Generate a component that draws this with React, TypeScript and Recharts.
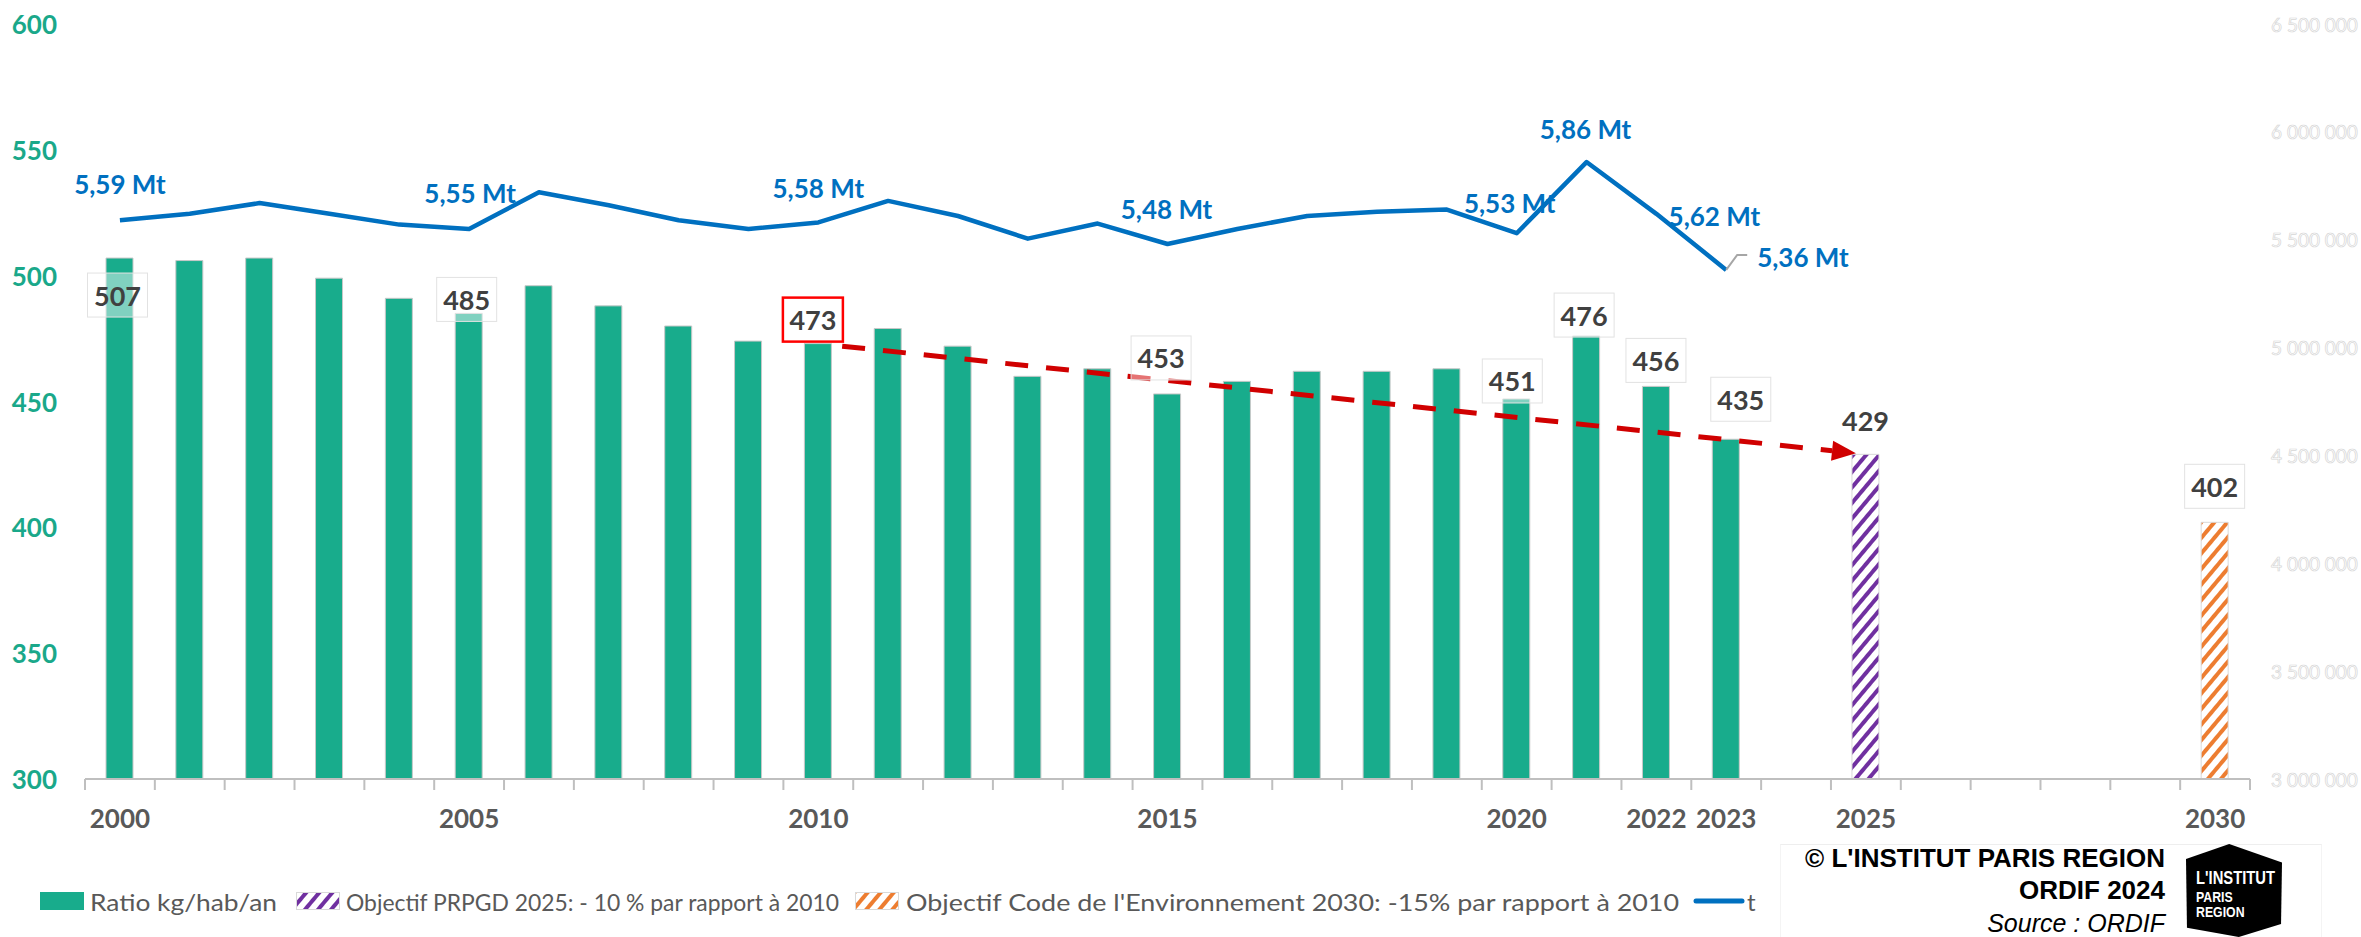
import { ComposedChart, Bar, Line, XAxis, YAxis, ReferenceLine, LabelList } from 'recharts'

// categories: one slot per year, 2024 and 2026-2029 stay empty
const years = [
  '2000', '2001', '2002', '2003', '2004', '2005', '2006', '2007', '2008', '2009',
  '2010', '2011', '2012', '2013', '2014', '2015', '2016', '2017', '2018', '2019',
  '2020', '2021', '2022', '2023', '2024', '2025', '2026', '2027', '2028', '2029', '2030',
]

// kg / habitant / an
const ratioKgHab = [
  507, 506, 507, 499, 491, 485, 496, 488, 480, 474,
  473, 479, 472, 460, 463, 453, 458, 462, 462, 463,
  451, 476, 456, 435, null, null, null, null, null, null, null,
]
const objectifPrpgd2025 = [
  null, null, null, null, null, null, null, null, null, null,
  null, null, null, null, null, null, null, null, null, null,
  null, null, null, null, null, 429, null, null, null, null, null,
]
const objectifCode2030 = [
  null, null, null, null, null, null, null, null, null, null,
  null, null, null, null, null, null, null, null, null, null,
  null, null, null, null, null, null, null, null, null, null, 402,
]
// tonnes
const tonnage = [
  5590000, 5620000, 5670000, 5620000, 5570000, 5550000, 5720000, 5660000, 5590000, 5550000,
  5580000, 5680000, 5610000, 5505000, 5575000, 5480000, 5550000, 5610000, 5630000, 5640000,
  5530000, 5860000, 5620000, 5360000, null, null, null, null, null, null, null,
]

const leftTicks = [300, 350, 400, 450, 500, 550, 600]
const rightTicks = [3000000, 3500000, 4000000, 4500000, 5000000, 5500000, 6000000, 6500000]
const shownYears = ['2000', '2005', '2010', '2015', '2020', '2022', '2023', '2025', '2030']

const W = 2361
const H = 937
const LEFT_W = 85
const RIGHT_W = 111
const TOP = 24
const X_AXIS_H = 60
const BOTTOM = 98
const BAND = (W - LEFT_W - RIGHT_W) / years.length

const GREEN = '#18AC8C'
const BLUE = '#0070C0'
const PURPLE = '#7030A0'
const ORANGE = '#ED7D31'
const FONT = 'Lato, "Open Sans", sans-serif'

// where Excel's labels were dragged to (offset from bar top / line point)
const BAR_LABEL_POS: Record<string, { dx: number; dy: number; box: 'plain' | 'red' | 'none' }> = {
  '2000': { dx: -2, dy: 37, box: 'plain' },
  '2005': { dx: -2, dy: -14, box: 'plain' },
  '2010': { dx: -5, dy: -24, box: 'red' },
  '2015': { dx: -6, dy: -36, box: 'plain' },
  '2020': { dx: -4, dy: -18, box: 'plain' },
  '2021': { dx: -2, dy: -21, box: 'plain' },
  '2022': { dx: 0, dy: -26, box: 'plain' },
  '2023': { dx: 15, dy: -40, box: 'plain' },
  '2025': { dx: 0, dy: -34, box: 'none' },
  '2030': { dx: 0, dy: -36, box: 'plain' },
}
const LINE_LABEL_POS: Record<string, { dx: number; dy: number }> = {
  '2000': { dx: 0, dy: -36 },
  '2005': { dx: 1, dy: -36 },
  '2010': { dx: 0, dy: -34 },
  '2015': { dx: -1, dy: -35 },
  '2020': { dx: -7, dy: -30 },
  '2021': { dx: -1, dy: -33 },
  '2022': { dx: 58, dy: 2 },
}

const fmtSpaces = (v: number) => String(v).replace(/\B(?=(\d{3})+(?!\d))/g, ' ')
const fmtMt = (v: number) => (v / 1000000).toFixed(2).replace('.', ',') + ' Mt'

function XTick(props: any) {
  const { x, y, payload } = props
  const i = props.index ?? payload.index
  const half = BAND / 2
  return (
    <g>
      <line x1={x - half} x2={x - half} y1={y} y2={y + 11} stroke="#BFBFBF" strokeWidth={2} />
      {i === years.length - 1 && (
        <line x1={x + half} x2={x + half} y1={y} y2={y + 11} stroke="#BFBFBF" strokeWidth={2} />
      )}
      {shownYears.includes(payload.value) && (
        <text x={x} y={y + 39} textAnchor="middle" dominantBaseline="central"
          fontFamily={FONT} fontWeight={700} fontSize={26} fill="#595959">
          {payload.value}
        </text>
      )}
    </g>
  )
}

function LeftTick(props: any) {
  const { x, y, payload } = props
  return (
    <text x={x} y={y} textAnchor="end" dominantBaseline="central"
      fontFamily={FONT} fontWeight={700} fontSize={26} fill="#1AA88A">
      {payload.value}
    </text>
  )
}

function RightTick(props: any) {
  const { x, y, payload } = props
  return (
    <text x={x} y={y} textAnchor="start" dominantBaseline="central"
      fontFamily={FONT} fontSize={19} fill="#ffffff" stroke="#d6d6d6" strokeWidth={0.7}>
      {fmtSpaces(payload.value)}
    </text>
  )
}

function BarValueLabel(props: any) {
  const { x, y, width, value, year } = props
  if (value == null || year == null) return null
  const pos = BAR_LABEL_POS[year]
  if (!pos) return null
  const cx = x + width / 2 + pos.dx
  const cy = y + pos.dy
  return (
    <g>
      {pos.box !== 'none' && (
        <rect x={cx - 30} y={cy - 22} width={60} height={44}
          fill="rgba(255,255,255,0.45)"
          stroke={pos.box === 'red' ? '#FF0000' : '#E2E2E2'}
          strokeWidth={pos.box === 'red' ? 2.5 : 1} />
      )}
      <text x={cx} y={cy} textAnchor="middle" dominantBaseline="central"
        fontFamily={FONT} fontWeight={700} fontSize={27} fill="#404040">
        {value}
      </text>
    </g>
  )
}

function LineValueLabel(props: any) {
  const { x, y, value, index } = props
  if (value == null) return null
  const year = years[index]
  const style = { fontFamily: FONT, fontWeight: 700, fontSize: 26, fill: BLUE }
  if (year === '2023') {
    return (
      <g>
        <polyline points={`${x},${y} ${x + 11},${y - 15} ${x + 21},${y - 15}`}
          fill="none" stroke="#A6A6A6" strokeWidth={2} />
        <text x={x + 31} y={y - 13} textAnchor="start" dominantBaseline="central" {...style}>
          {fmtMt(value)}
        </text>
      </g>
    )
  }
  const pos = LINE_LABEL_POS[year]
  if (!pos) return null
  return (
    <text x={x + pos.dx} y={y + pos.dy} textAnchor="middle" dominantBaseline="central" {...style}>
      {fmtMt(value)}
    </text>
  )
}

// red dashed arrow from 2010 bar to 2025 target
function TrendArrow(props: any) {
  const { x1, y1, x2, y2 } = props
  if ([x1, y1, x2, y2].some((v) => typeof v !== 'number' || isNaN(v))) return null
  const len = Math.hypot(x2 - x1, y2 - y1)
  const ux = (x2 - x1) / len
  const uy = (y2 - y1) / len
  const sx = x1 + ux * 24
  const sy = y1 + uy * 24
  const tx = x2 - ux * 10
  const ty = y2 - uy * 10
  const bx = tx - ux * 24
  const by = ty - uy * 24
  const nx = -uy
  const ny = ux
  return (
    <g>
      <line x1={sx} y1={sy} x2={bx} y2={by} stroke="#D00000" strokeWidth={5} strokeDasharray="23 18" />
      <polygon
        points={`${tx},${ty} ${bx + nx * 10},${by + ny * 10} ${bx - nx * 10},${by - ny * 10}`}
        fill="#D00000" />
    </g>
  )
}

function ChartLegend() {
  const txt = { fontFamily: FONT, fontSize: 24, fill: '#595959', dominantBaseline: 'central' as const, lengthAdjust: 'spacingAndGlyphs' }
  return (
    <svg width={1800} height={40} style={{ position: 'absolute', left: 0, top: 881 }}>
      <rect x={40} y={11} width={44} height={18} fill={GREEN} />
      <text x={90} y={20} textLength={187} {...txt}>Ratio kg/hab/an</text>
      <rect x={296.5} y={11.5} width={43} height={17} fill="url(#hatch-purple)" stroke="#D9D9D9" />
      <text x={346} y={20} textLength={493} {...txt}>Objectif PRPGD 2025: - 10 % par rapport à 2010</text>
      <rect x={855.5} y={11.5} width={43} height={17} fill="url(#hatch-orange)" stroke="#D9D9D9" />
      <text x={906} y={20} textLength={773} {...txt}>Objectif Code de l'Environnement 2030: -15% par rapport à 2010</text>
      <line x1={1696} x2={1742} y1={20} y2={20} stroke={BLUE} strokeWidth={5} strokeLinecap="round" />
      <text x={1747} y={20} {...txt}>t</text>
    </svg>
  )
}

function Credits() {
  const base = { position: 'absolute' as const, right: 196, fontFamily: '"Liberation Sans", Arial, sans-serif', color: '#000', whiteSpace: 'nowrap' as const, lineHeight: '30px' }
  return (
    <>
      <div style={{ position: 'absolute', left: 1780, top: 844, width: 540, height: 93, borderTop: '1px solid #EEEEEE', borderLeft: '1px solid #F4F4F4', borderRight: '1px solid #F4F4F4' }} />
      <div style={{ ...base, top: 843, fontSize: 26, fontWeight: 700 }}>© L'INSTITUT PARIS REGION</div>
      <div style={{ ...base, top: 875, fontSize: 26, fontWeight: 700 }}>ORDIF 2024</div>
      <div style={{ ...base, top: 908, fontSize: 25, fontStyle: 'italic' }}>Source : ORDIF</div>
      <div style={{
        position: 'absolute', left: 2186, top: 844, width: 96, height: 93, background: '#000',
        clipPath: 'polygon(0% 16%, 45% 0%, 100% 20%, 99% 86%, 55% 100%, 1% 90%)',
      }}>
        <div style={{ position: 'absolute', left: 10, top: 24, color: '#fff', fontFamily: '"Liberation Sans", Arial, sans-serif', fontWeight: 700, fontSize: 15, lineHeight: '15px', transform: 'scaleX(0.82)', transformOrigin: 'left' }}>
          <div style={{ fontSize: 18, lineHeight: '21px' }}>L'INSTITUT</div>
          <div>PARIS</div>
          <div>REGION</div>
        </div>
      </div>
    </>
  )
}

export default function App() {
  const data = years.map((year, i) => ({
    year,
    ratio: ratioKgHab[i],
    obj2025: objectifPrpgd2025[i],
    obj2030: objectifCode2030[i],
    tonnage: tonnage[i],
  }))
  const trendStart = { x: '2010', y: ratioKgHab[years.indexOf('2010')] as number }
  const trendEnd = { x: '2025', y: objectifPrpgd2025[years.indexOf('2025')] as number }

  return (
    <div style={{ position: 'absolute', left: 0, top: 0, width: W, height: H, background: '#fff', fontFamily: FONT }}>
      <svg width={0} height={0} style={{ position: 'absolute' }}>
        <defs>
          <pattern id="hatch-purple" patternUnits="userSpaceOnUse" width={10} height={10} patternTransform="rotate(40)">
            <rect width={10} height={10} fill="#fff" />
            <rect width={4} height={10} fill={PURPLE} />
          </pattern>
          <pattern id="hatch-orange" patternUnits="userSpaceOnUse" width={10} height={10} patternTransform="rotate(40)">
            <rect width={10} height={10} fill="#fff" />
            <rect width={4} height={10} fill={ORANGE} />
          </pattern>
        </defs>
      </svg>
      <ComposedChart width={W} height={H} data={data} margin={{ top: TOP, right: 0, bottom: BOTTOM, left: 0 }}>
        <XAxis
          dataKey="year"
          interval={0}
          height={X_AXIS_H}
          tickLine={false}
          tickSize={0}
          tickMargin={0}
          axisLine={{ stroke: '#BFBFBF', strokeWidth: 2 }}
          tick={(p: any) => <XTick {...p} />}
        />
        <YAxis
          yAxisId="left"
          domain={[300, 600]}
          ticks={leftTicks}
          allowDataOverflow
          width={LEFT_W}
          axisLine={false}
          tickLine={false}
          tickSize={0}
          tickMargin={28}
          tick={(p: any) => <LeftTick {...p} />}
        />
        <YAxis
          yAxisId="right"
          orientation="right"
          domain={[3000000, 6500000]}
          ticks={rightTicks}
          allowDataOverflow
          width={RIGHT_W}
          axisLine={false}
          tickLine={false}
          tickSize={0}
          tickMargin={21}
          tick={(p: any) => <RightTick {...p} />}
        />
        <Bar yAxisId="left" dataKey="ratio" name="Ratio kg/hab/an" stackId="s" barSize={27}
          fill={GREEN} stroke="#C8C8C8" strokeWidth={1} isAnimationActive={false}>
          <LabelList dataKey="ratio" content={(p: any) => <BarValueLabel {...p} year={years[p.index]} />} />
        </Bar>
        <Bar yAxisId="left" dataKey="obj2025" name="Objectif PRPGD 2025: - 10 % par rapport à 2010" stackId="s" barSize={27}
          fill="url(#hatch-purple)" stroke="#D9D9D9" strokeWidth={1} isAnimationActive={false}>
          <LabelList dataKey="obj2025" content={(p: any) => <BarValueLabel {...p} year="2025" />} />
        </Bar>
        <Bar yAxisId="left" dataKey="obj2030" name="Objectif Code de l'Environnement 2030: -15% par rapport à 2010" stackId="s" barSize={27}
          fill="url(#hatch-orange)" stroke="#D9D9D9" strokeWidth={1} isAnimationActive={false}>
          <LabelList dataKey="obj2030" content={(p: any) => <BarValueLabel {...p} year="2030" />} />
        </Bar>
        <ReferenceLine yAxisId="left" segment={[trendStart, trendEnd]} ifOverflow="visible" shape={(p: any) => <TrendArrow {...p} />} />
        <Line yAxisId="right" dataKey="tonnage" name="t" stroke={BLUE} strokeWidth={4.5} strokeLinejoin="round"
          dot={false} activeDot={false} isAnimationActive={false}>
          <LabelList dataKey="tonnage" content={(p: any) => <LineValueLabel {...p} />} />
        </Line>
      </ComposedChart>
      <ChartLegend />
      <Credits />
    </div>
  )
}
